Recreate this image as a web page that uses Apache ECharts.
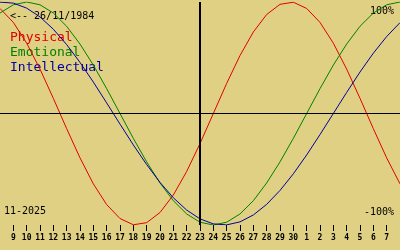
<!DOCTYPE html>
<html>
<head>
<meta charset="utf-8">
<script src="https://cdn.jsdelivr.net/npm/echarts@6/dist/echarts.min.js"></script>
<style>
html,body{margin:0;padding:0;background:#e0d084;}
#chart{width:400px;height:250px;}
</style>
</head>
<body>
<div id="chart"></div>
<script>
// Days from 8 Nov 2025 to 8 Dec 2025
var dayLabels = ['8','9','10','11','12','13','14','15','16','17','18','19','20','21','22','23','24','25','26','27','28','29','30','1','2','3','4','5','6','7','8'];
var todayLabelIndex = 15; // 23 Nov
var physical = [94.2, 81.7, 63.1, 39.8, 13.6, -13.6, -39.8, -63.1, -81.7, -94.2, -99.8, -97.9, -88.8, -73.1, -52.0, -27.0, 0, 27.0, 52.0, 73.1, 88.8, 97.9, 99.8, 94.2, 81.7, 63.1, 39.8, 13.6, -13.6, -39.8, -63.1];
var emotional = [90.1, 97.5, 100, 97.5, 90.1, 78.2, 62.3, 43.4, 22.3, 0, -22.3, -43.4, -62.3, -78.2, -90.1, -97.5, -100, -97.5, -90.1, -78.2, -62.3, -43.4, -22.3, 0, 22.3, 43.4, 62.3, 78.2, 90.1, 97.5, 100];
var intellectual = [99.9, 99.0, 94.5, 86.6, 75.6, 61.8, 45.8, 28.2, 9.5, -9.5, -28.2, -45.8, -61.8, -75.6, -86.6, -94.5, -99.0, -99.9, -97.2, -91.0, -81.5, -69.0, -54.1, -37.2, -18.9, 0, 18.9, 37.2, 54.1, 69.0, 81.5];
var seriesNames = ['Physical', 'Emotional', 'Intellectual'];
var titleText = '<-- 26/11/1984';
var monthText = '11-2025';
var yMaxText = '100%';
var yMinText = '-100%';

var RED = '#e00000', GREEN = '#008000', BLUE = '#0000a0';
var mono = '"DejaVu Sans Mono", monospace';
var lastIdx = dayLabels.length - 1;
function inner(i){ return i !== 0 && i !== lastIdx; }

var chart = echarts.init(document.getElementById('chart'), null, {renderer: 'canvas'});
chart.setOption({
  animation: false,
  backgroundColor: '#e0d084',
  grid: {left: 0, right: 0, top: 2, bottom: 25, containLabel: false},
  xAxis: {
    type: 'category',
    data: dayLabels,
    boundaryGap: false,
    axisLine: {show: false, onZero: false},
    axisTick: {show: true, length: 6, interval: function(i){ return inner(i); }, lineStyle: {color: '#000', width: 1}},
    axisLabel: {show: true, margin: 9, interval: function(i){ return inner(i); }, color: '#000', fontFamily: mono, fontSize: 8, fontWeight: 'bold'},
    splitLine: {show: false}
  },
  yAxis: {
    type: 'value', min: -100, max: 100,
    axisLine: {show: false}, axisTick: {show: false}, axisLabel: {show: false}, splitLine: {show: false}
  },
  series: [
    {name: seriesNames[0], type: 'line', data: physical, symbol: 'none', lineStyle: {color: RED, width: 1}, itemStyle: {color: RED},
     markLine: {silent: true, symbol: 'none', label: {show: false},
       data: [
         {yAxis: 0, lineStyle: {color: '#000', width: 1, type: 'solid'}},
         {xAxis: dayLabels[todayLabelIndex], lineStyle: {color: '#000', width: 2, type: 'solid'}}
       ]}},
    {name: seriesNames[1], type: 'line', data: emotional, symbol: 'none', lineStyle: {color: GREEN, width: 1}, itemStyle: {color: GREEN}},
    {name: seriesNames[2], type: 'line', data: intellectual, symbol: 'none', lineStyle: {color: BLUE, width: 1}, itemStyle: {color: BLUE}}
  ],
  graphic: [
    {type: 'text', left: 10, top: 11, style: {text: titleText, fill: '#000', font: '10px ' + mono}},
    {type: 'text', left: 10, top: 31, style: {text: seriesNames[0], fill: RED, font: '13px ' + mono}},
    {type: 'text', left: 10, top: 46, style: {text: seriesNames[1], fill: GREEN, font: '13px ' + mono}},
    {type: 'text', left: 10, top: 61, style: {text: seriesNames[2], fill: BLUE, font: '13px ' + mono}},
    {type: 'text', right: 6, top: 6, style: {text: yMaxText, fill: '#000', font: '10px ' + mono}},
    {type: 'text', right: 6, top: 207, style: {text: yMinText, fill: '#000', font: '10px ' + mono}},
    {type: 'text', left: 4, top: 206, style: {text: monthText, fill: '#000', font: '10px ' + mono}}
  ]
});
</script>
</body>
</html>
